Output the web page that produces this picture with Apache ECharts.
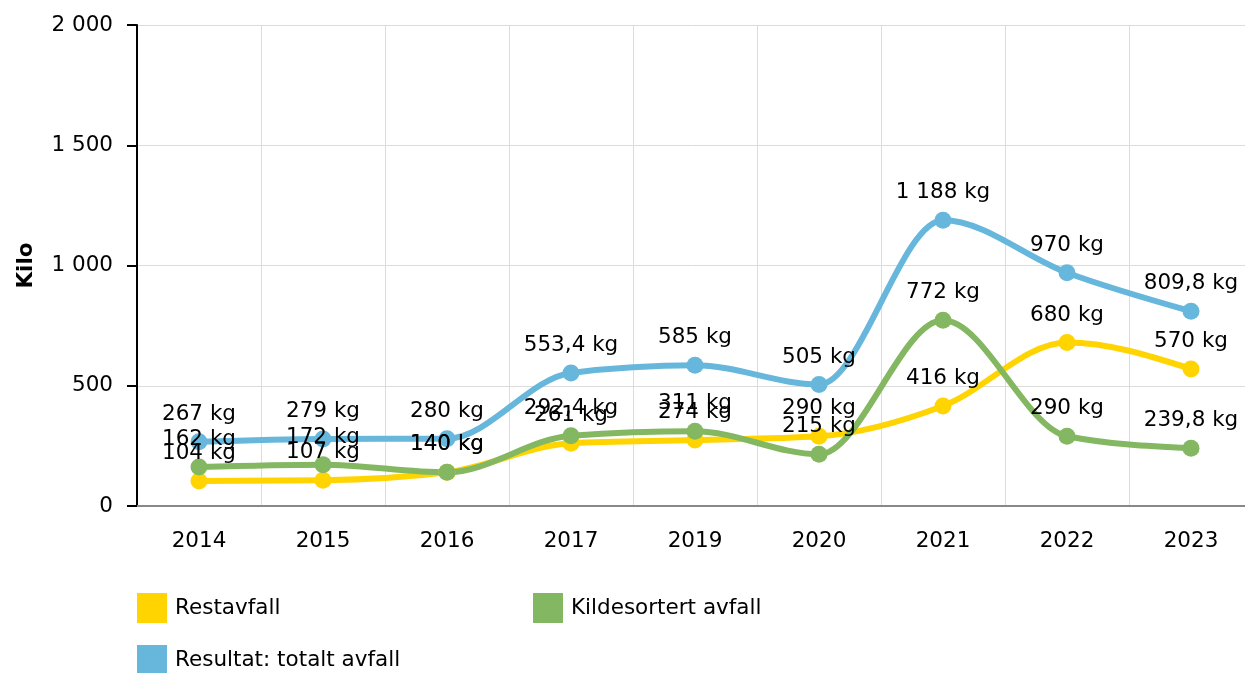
<!DOCTYPE html>
<html>
<head>
<meta charset="utf-8">
<script src="https://cdn.jsdelivr.net/npm/echarts@6/dist/echarts.min.js"></script>
<style>
  html, body { margin: 0; padding: 0; background: #fff; }
  #chart { width: 1245px; height: 673px; }
</style>
</head>
<body>
<div id="chart"></div>
<script>
const years = ['2014', '2015', '2016', '2017', '2019', '2020', '2021', '2022', '2023']
const restavfall = [104, 107, 140, 261, 274, 290, 416, 680, 570]
const kildesortert = [162, 172, 140, 292.4, 311, 215, 772, 290, 239.8]
const totalt = [267, 279, 280, 553.4, 585, 505, 1188, 970, 809.8]
const seriesNames = ['Restavfall', 'Kildesortert avfall', 'Resultat: totalt avfall']
const colors = ['#FFD400', '#84B761', '#67B7DC']

const FONT = '"DejaVu Sans", Verdana, sans-serif'
const FS = 21.5

// norsk tallformat: mellomrom som tusenskille, komma som desimaltegn
function fmt(v) {
  const parts = String(v).split('.')
  const int = parts[0].replace(/\B(?=(\d{3})+(?!\d))/g, ' ')
  return parts[1] ? int + ',' + parts[1] : int
}

// monoton kubisk kurve (samme som d3 curveMonotoneX), tangenter i pikselrom
const sign = (x) => (x < 0 ? -1 : 1)
function tangents(pts) {
  const n = pts.length
  const t = new Array(n).fill(0)
  for (let i = 1; i < n - 1; i++) {
    const h0 = pts[i][0] - pts[i - 1][0]
    const h1 = pts[i + 1][0] - pts[i][0]
    const s0 = (pts[i][1] - pts[i - 1][1]) / h0
    const s1 = (pts[i + 1][1] - pts[i][1]) / h1
    const p = (s0 * h1 + s1 * h0) / (h0 + h1)
    t[i] = (sign(s0) + sign(s1)) * Math.min(Math.abs(s0), Math.abs(s1), 0.5 * Math.abs(p)) || 0
  }
  const sFirst = (pts[1][1] - pts[0][1]) / (pts[1][0] - pts[0][0])
  const sLast = (pts[n - 1][1] - pts[n - 2][1]) / (pts[n - 1][0] - pts[n - 2][0])
  t[0] = (3 * sFirst - t[1]) / 2
  t[n - 1] = (3 * sLast - t[n - 2]) / 2
  return t
}

function curveSeries(name, data, color) {
  const n = data.length
  return {
    type: 'custom',
    name: name + ' kurve',
    data: data.map((v, i) => [i, v]),
    silent: true,
    z: 2,
    renderItem(params, api) {
      const i = params.dataIndex
      if (i >= n - 1) return null
      const pts = data.map((v, k) => api.coord([k, v]))
      const t = tangents(pts)
      const [x0, y0] = pts[i]
      const [x1, y1] = pts[i + 1]
      const dx = (x1 - x0) / 3
      return {
        type: 'bezierCurve',
        shape: {
          x1: x0, y1: y0,
          cpx1: x0 + dx, cpy1: y0 + dx * t[i],
          cpx2: x1 - dx, cpy2: y1 - dx * t[i + 1],
          x2: x1, y2: y1,
        },
        style: { stroke: color, lineWidth: 6, fill: null, lineCap: 'round' },
      }
    },
  }
}

function pointSeries(name, data, color) {
  return {
    type: 'line',
    name,
    data,
    z: 3,
    symbol: 'circle',
    symbolSize: 17,
    lineStyle: { color, opacity: 0 },
    itemStyle: { color },
    label: {
      show: true,
      position: 'top',
      distance: 8,
      fontFamily: FONT,
      fontSize: FS,
      color: '#000',
      formatter: (p) => fmt(p.value) + ' kg',
    },
  }
}

function legendAt(i, left, top) {
  return {
    data: [{ name: seriesNames[i], itemStyle: { color: colors[i] } }],
    left,
    top,
    icon: 'rect',
    itemWidth: 30,
    itemHeight: 30,
    itemGap: 0,
    selectedMode: false,
    textStyle: { fontFamily: FONT, fontSize: FS, color: '#000', padding: [0, 0, 0, 3] },
  }
}

const chart = echarts.init(document.getElementById('chart'))
chart.setOption({
  animation: false,
  color: colors,
  grid: { left: 137, top: 25, width: 1116, height: 481, containLabel: false, outerBoundsMode: 'none' },
  legend: [legendAt(0, 132, 588), legendAt(1, 528, 588), legendAt(2, 132, 640)],
  xAxis: {
    type: 'category',
    data: years,
    boundaryGap: true,
    axisLine: { lineStyle: { color: '#888', width: 2 } },
    axisTick: { alignWithLabel: true, length: 8, lineStyle: { color: '#888' } },
    axisLabel: { fontFamily: FONT, fontSize: FS, color: '#000', margin: 24 },
    splitLine: { show: true, lineStyle: { color: '#dcdcdc', width: 1 } },
  },
  yAxis: {
    type: 'value',
    min: 0,
    max: 2000,
    interval: 500,
    name: 'Kilo',
    nameLocation: 'middle',
    nameGap: 100,
    nameTextStyle: { fontFamily: FONT, fontSize: FS, fontWeight: 'bold', color: '#000' },
    axisLine: { show: true, lineStyle: { color: '#000', width: 2 } },
    axisTick: { show: true, length: 10, lineStyle: { color: '#000', width: 2 } },
    axisLabel: { fontFamily: FONT, fontSize: FS, color: '#000', margin: 24, formatter: (v) => fmt(v) },
    splitLine: { lineStyle: { color: '#dcdcdc', width: 1 } },
  },
  series: [
    curveSeries(seriesNames[0], restavfall, colors[0]),
    pointSeries(seriesNames[0], restavfall, colors[0]),
    curveSeries(seriesNames[1], kildesortert, colors[1]),
    pointSeries(seriesNames[1], kildesortert, colors[1]),
    curveSeries(seriesNames[2], totalt, colors[2]),
    pointSeries(seriesNames[2], totalt, colors[2]),
  ],
})
</script>
</body>
</html>
